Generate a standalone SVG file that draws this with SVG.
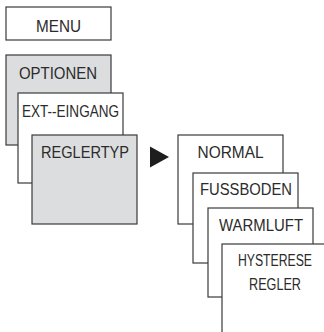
<svg xmlns="http://www.w3.org/2000/svg" width="324" height="332" viewBox="0 0 324 332">
<style>
.box{stroke:#3a3a3a;stroke-width:1.2;fill:#ffffff}
.gray{fill:#dcdddf}
.t{font-family:"Liberation Sans",Arial,sans-serif;font-size:16px;fill:#2b2b2b;text-anchor:middle}
</style>
<rect width="324" height="332" fill="#ffffff"/>
<g id="menu">
<rect class="box" x="6" y="7" width="105" height="33"/>
<text class="t" x="58.5" y="32" textLength="45" lengthAdjust="spacingAndGlyphs">MENU</text>
</g>
<g id="optionen">
<rect class="box gray" x="6" y="55" width="105" height="90"/>
<text class="t" x="58" y="79" textLength="78" lengthAdjust="spacingAndGlyphs">OPTIONEN</text>
</g>
<g id="ext-eingang">
<rect class="box" x="18" y="93" width="105" height="90"/>
<text class="t" x="70.5" y="117" textLength="97" lengthAdjust="spacingAndGlyphs">EXT--EINGANG</text>
</g>
<g id="reglertyp">
<rect class="box gray" x="32" y="135" width="105" height="89"/>
<text class="t" x="85" y="158" textLength="88" lengthAdjust="spacingAndGlyphs">REGLERTYP</text>
</g>
<g id="connectors">
<polygon points="150,146.5 150,167.5 169,157" fill="#1e1e1e"/>
</g>
<g id="normal">
<rect class="box" x="178" y="135" width="105" height="89"/>
<text class="t" x="230.5" y="158" textLength="66" lengthAdjust="spacingAndGlyphs">NORMAL</text>
</g>
<g id="fussboden">
<rect class="box" x="193" y="173" width="105" height="90"/>
<text class="t" x="246" y="195" textLength="92" lengthAdjust="spacingAndGlyphs">FUSSBODEN</text>
</g>
<g id="warmluft">
<rect class="box" x="208" y="208" width="105" height="89"/>
<text class="t" x="261" y="231" textLength="84" lengthAdjust="spacingAndGlyphs">WARMLUFT</text>
</g>
<g id="hysterese-regler">
<rect class="box" x="222" y="244" width="106" height="95"/>
<text class="t" x="275" y="266" textLength="74" lengthAdjust="spacingAndGlyphs">HYSTERESE</text>
<text class="t" x="275" y="290" textLength="52" lengthAdjust="spacingAndGlyphs">REGLER</text>
</g>
</svg>
